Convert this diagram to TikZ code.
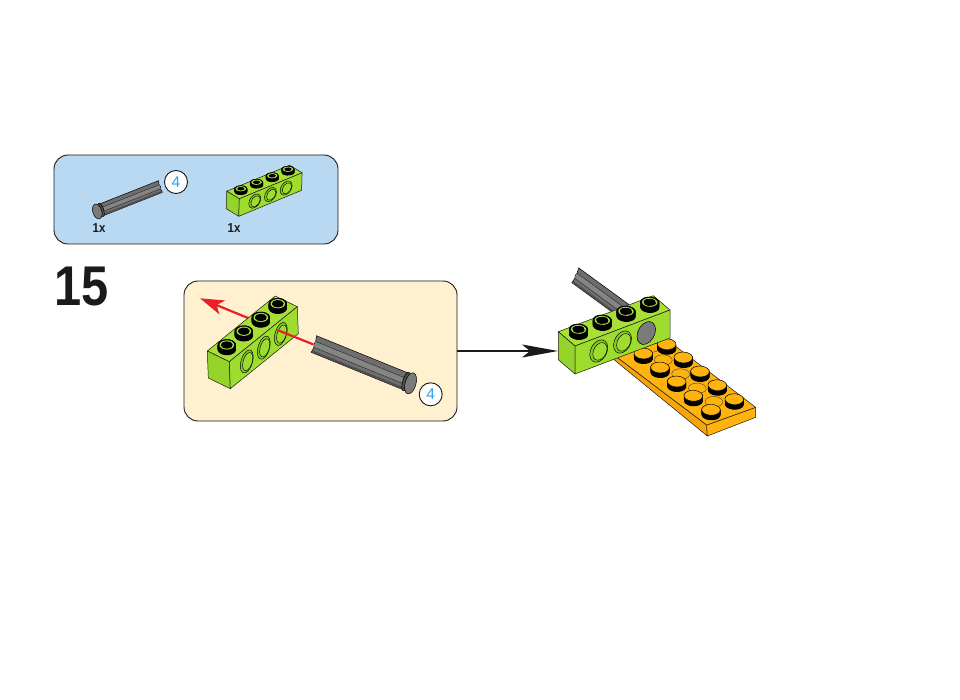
\documentclass[tikz,border=0pt]{standalone}
\usepackage{fontspec}
\setmainfont{Liberation Sans}
\usetikzlibrary{arrows.meta}
\definecolor{lgBlue}{HTML}{B9D8F2}
\definecolor{lgCream}{HTML}{FFF0D0}
\definecolor{lgTop}{HTML}{A8E038}
\definecolor{lgFace}{HTML}{9EDC2E}
\definecolor{lgEnd}{HTML}{94D42A}
\definecolor{lgHole}{HTML}{86C828}
\definecolor{lgOrTop}{HTML}{FFB30F}
\definecolor{lgOrSide}{HTML}{F7A30C}
\definecolor{lgCyan}{HTML}{29A3E8}
\definecolor{lgRed}{HTML}{E8202A}
\definecolor{lgInk}{HTML}{1A1A1A}
\tikzset{
  panel/.style={draw=lgInk,line width=0.9pt,rounded corners=14pt,inner sep=0pt,outer sep=0pt},
  badge/.style={circle,draw=lgInk,fill=white,line width=0.9pt,minimum size=23pt,inner sep=0pt,text=lgCyan,font=\fontsize{15.5}{15.5}\selectfont},
  qty/.style={inner sep=0pt,text=lgInk,font=\bfseries\fontsize{13}{13}\selectfont},
  edge/.style={draw=lgInk,line width=0.5pt,line join=round},
  thin ink/.style={draw=black,line width=0.45pt}
}
\newcommand\studrow[9]{% ox oy ux uy vx vy h topcolour innerradius
  \foreach \k in {0,0.5,...,#7}{
    \begin{scope}[yshift=-\k pt,cm={#3,#4,#5,#6,(#1,#2)}]
      \foreach \i in {0.5,1.5,2.5,3.5}{\fill[black] (\i,0.5) circle (0.33);}
    \end{scope}}
  \begin{scope}[yshift=-#7 pt,cm={#3,#4,#5,#6,(#1,#2)}]
    \foreach \i in {0.5,1.5,2.5,3.5}{
      \fill[black] (\i,0.5) circle (0.33);
      \fill[#8] (\i,0.5) circle (0.265);
      \fill[black] (\i,0.5) circle (#9);}
  \end{scope}}
\newcommand\brick[8]{%
  \begin{scope}[cm={#3,#4,#5,#6,(#1,#2)}]
    \filldraw[edge,fill=lgTop] (0,0) rectangle (4,1);
  \end{scope}
  \begin{scope}[cm={#5,#6,#7,#8,(#1,#2)}]
    \filldraw[edge,fill=lgEnd] (0,0) rectangle (1,1);
  \end{scope}
  \begin{scope}[cm={#3,#4,#7,#8,(#1,#2)}]
    \filldraw[edge,fill=lgFace] (0,0) rectangle (4,1);
    \foreach \i in {1,2,3}{
      \filldraw[thin ink,fill=lgHole] (\i,0.5) circle (0.38);
      \filldraw[thin ink,fill=lgFace] (\i+0.05,0.53) circle (0.3);}
  \end{scope}}
\newcommand\axlebody[6]{%
  \begin{scope}[cm={#3,#4,#5,#6,(#1,#2)}]
    \filldraw[draw=black,line width=0.5pt,line join=round,fill=black!57] (0,-1) -- (1,-1) -- (1,1) -- (0,1) -- (0.012,0.35) -- (0,0) -- (0.012,-0.35) -- cycle;
    \fill[black!48] (0.01,-0.35) rectangle (1,0.35);
    \fill[black!70] (0.01,-1) rectangle (1,-0.75);
    \draw[black!85,line width=0.4pt] (0.012,0.35) -- (1,0.35) (0.012,-0.35) -- (1,-0.35);
  \end{scope}}
\newcommand\axlehead[7]{%
  \begin{scope}[cm={#3,#4,#5,#6,(#1,#2)}]
    \filldraw[draw=black,line width=0.5pt,fill=black!70] (1,0) ellipse [x radius=#7*0.6,y radius=1.12];
    \filldraw[draw=black,line width=0.5pt,fill=black!52] (1+#7*0.9,0) ellipse [x radius=#7,y radius=1.25];
  \end{scope}}
\newcommand\dimple[2]{%
  \filldraw[draw=black!75,line width=0.4pt,fill=lgOrTop,cm={5.24,4.34,7.22,-2.88,(#1,#2)}] (0,0) circle (1);}
\newcommand\plstud[2]{%
  \foreach \k in {0,0.5,...,5}{
    \begin{scope}[yshift=-\k pt,cm={5.24,4.34,7.22,-2.88,(#1,#2+2.5)}]
      \fill[black] (0,0) circle (1.06);
    \end{scope}}
  \begin{scope}[yshift=-5pt,cm={5.24,4.34,7.22,-2.88,(#1,#2+2.5)}]
    \filldraw[draw=black,line width=0.4pt,fill=lgOrTop] (0,0) circle (1.04);
  \end{scope}}
\begin{document}
\begin{tikzpicture}[x=1pt,y=1pt,yscale=-1]
\useasboundingbox (0,0) rectangle (960,700);
\fill[white] (0,0) rectangle (960,700);

% parts panel
\node[panel,fill=lgBlue,minimum width=284pt,minimum height=89pt] (parts) at (196,199.5) {};
\axlebody{160.5}{186.5}{-59.5}{23.5}{-2}{-5.8}
\axlehead{160.5}{186.5}{-59.5}{23.5}{-2}{-5.8}{0.07}
\node[badge] (badgeA) at (176,182) {4};
\brick{239.3}{198.8}{15.7}{-6.5}{-12.6}{-7.6}{-0.5}{17.5}
\studrow{239.3}{198.8}{15.7}{-6.5}{-12.6}{-7.6}{3}{lgTop}{0.18}
\node[qty] (qtyA) at (99,228) {\scalebox{.88}[1]{1x}};
\node[qty] (qtyB) at (234,228) {\scalebox{.88}[1]{1x}};

% step number
\node[inner sep=0pt,text=lgInk,font=\bfseries\fontsize{56}{56}\selectfont] (num) at (81.5,287) {\scalebox{.87}[1]{15}};

% step panel
\node[panel,fill=lgCream,minimum width=273pt,minimum height=140pt] (step) at (320.5,351) {};
\coordinate (redEnd) at (313,344.3);
\coordinate (redHole) at (277.3,330);
\coordinate (redTip) at (200,298.3);
\draw[lgRed,line width=2.2pt,-{Stealth[length=24pt,width=15pt,inset=6pt]}] (redHole) -- (redTip);
\brick{229.3}{361.7}{17}{-13.75}{-22}{-10.7}{1}{27}
\studrow{229.3}{361.7}{17}{-13.75}{-22}{-10.7}{4.5}{lgTop}{0.215}
\draw[lgRed,line width=2.2pt] (redEnd) -- (redHole);
\axlebody{313.8}{344}{92.2}{37.5}{2.6}{-8.3}
\axlehead{313.8}{344}{92.2}{37.5}{2.6}{-8.3}{0.055}
\node[badge] (badgeB) at (430.7,394.3) {4};

% plate
\filldraw[edge,fill=lgOrSide] (612,353.5) -- (706.7,425) -- (707.3,436) -- (612,358) -- cycle;
\filldraw[edge,fill=lgOrTop] (706.7,425) -- (755.7,407.3) -- (755.7,417.3) -- (707.3,436) -- cycle;
\filldraw[edge,fill=lgOrTop] (612,353.5) -- (706.7,425) -- (755.7,407.3) -- (662,336) -- cycle;
\foreach \p/\q in {651/347,663.3/360,680.7/374,697.3/388.3,714/401.7}{\dimple{\p}{\q}}
\foreach \p/\q in {666.7/346.7,683.3/360,700/374,717.3/387.7,734.3/401.7,643.3/356,660/370,676.7/384,693.3/398.3,711/412.3}{\plstud{\p}{\q}}

% arrow and result
\coordinate (resultIn) at (558,351);
\draw[lgInk,line width=1.2pt,-{Stealth[length=36pt,width=13pt,inset=8pt]}] (step.east) -- (resultIn);
\axlebody{575.3}{275.3}{50}{36.5}{3.4}{-7.4}
\brick{575}{346}{23.75}{-9}{-16.7}{-14.3}{0}{28}
\studrow{575}{346}{23.75}{-9}{-16.7}{-14.3}{5}{lgTop}{0.215}
\begin{scope}[cm={23.75,-9,0,28,(575,346)}]
  \filldraw[thin ink,fill=black!52] (3,0.5) circle (0.39);
\end{scope}
\end{tikzpicture}
\end{document}
